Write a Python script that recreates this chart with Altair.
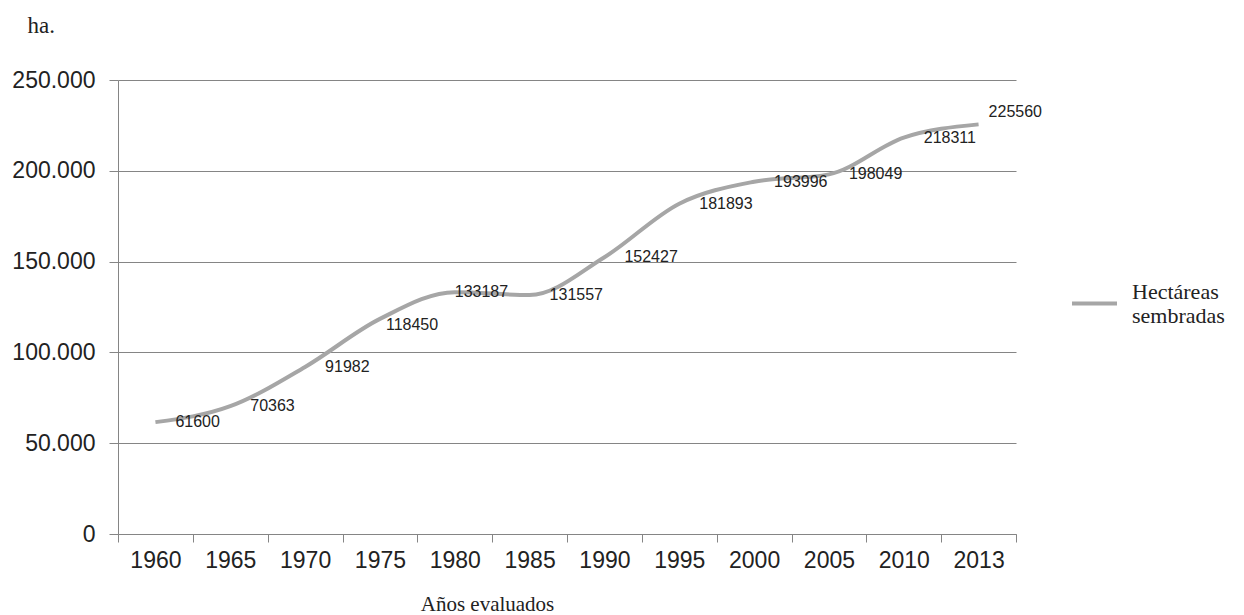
import altair as alt
import pandas as pd

years = ["1960", "1965", "1970", "1975", "1980", "1985", "1990",
         "1995", "2000", "2005", "2010", "2013"]
hectares = [61600, 70363, 91982, 118450, 133187, 131557, 152427,
            181893, 193996, 198049, 218311, 225560]
series_name = "Hectáreas sembradas"
y_ticks = [0, 50000, 100000, 150000, 200000, 250000]

df = pd.DataFrame({"year": years, "value": hectares,
                   "serie": [series_name] * len(years)})

SANS = "Liberation Sans"
SERIF = "Liberation Serif"
GRID = "#858585"

x_enc = alt.X(
    "year:N", sort=years, bandPosition=0.5,
    scale=alt.Scale(type="band", paddingInner=0, paddingOuter=0),
    axis=alt.Axis(
        title="Años evaluados", titleFont=SERIF, titleFontSize=21,
        titleFontWeight="normal", titleColor="#222",
        titleX=369, titleY=76, titleAlign="center", titleBaseline="alphabetic",
        labelAngle=0, labelFont=SANS, labelFontSize=23, labelColor="#222",
        labelPadding=7, tickBand="extent", tickSize=8, tickColor=GRID,
        domainColor=GRID, grid=False,
    ),
)
y_enc = alt.Y(
    "value:Q",
    scale=alt.Scale(domain=[0, 250000], nice=False),
    axis=alt.Axis(
        values=y_ticks,
        labelExpr="replace(format(datum.value, ',d'), ',', '.')",
        labelFont=SANS, labelFontSize=23, labelColor="#222",
        labelPadding=14, tickSize=9, tickColor=GRID, domainColor=GRID,
        grid=True, gridColor=GRID, gridWidth=1,
        title="ha.", titleFont=SERIF, titleFontSize=23, titleFontWeight="normal",
        titleColor="#222", titleAngle=0, titleAlign="left",
        titleBaseline="alphabetic", titleX=-91, titleY=-48,
    ),
)

base = alt.Chart(df)

line = base.mark_line(interpolate="monotone", strokeWidth=4).encode(
    x=x_enc, y=y_enc,
    color=alt.Color(
        "serie:N",
        scale=alt.Scale(domain=[series_name], range=["#a6a6a6"]),
        legend=alt.Legend(
            title=None, orient="none", legendX=952, legendY=187, padding=0,
            symbolType="M-1,0.53L1,0.53", symbolSize=2025, symbolStrokeWidth=4,
            labelFont=SERIF, labelFontSize=22, labelColor="#222",
            labelExpr="split(datum.label, ' ')", labelOffset=13,
            labelLimit=400,
        ),
    ),
)

text_props = dict(font=SANS, fontSize=16, color="#222", align="left",
                  baseline="middle")
special = ["1975", "1980", "2013"]

labels_main = base.mark_text(dx=20, dy=0, **text_props).encode(
    x=alt.X("year:N", sort=years, bandPosition=0.5),
    y="value:Q", text=alt.Text("value:Q", format="d"),
).transform_filter(~alt.FieldOneOfPredicate(field="year", oneOf=special))

labels_1975 = base.mark_text(dx=6, dy=6, **text_props).encode(
    x=alt.X("year:N", sort=years, bandPosition=0.5),
    y="value:Q", text=alt.Text("value:Q", format="d"),
).transform_filter(alt.FieldEqualPredicate(field="year", equal="1975"))

labels_1980 = base.mark_text(dx=0, dy=0, **text_props).encode(
    x=alt.X("year:N", sort=years, bandPosition=0.5),
    y="value:Q", text=alt.Text("value:Q", format="d"),
).transform_filter(alt.FieldEqualPredicate(field="year", equal="1980"))

labels_2013 = base.mark_text(dx=10, dy=-12, **text_props).encode(
    x=alt.X("year:N", sort=years, bandPosition=0.5),
    y="value:Q", text=alt.Text("value:Q", format="d"),
).transform_filter(alt.FieldEqualPredicate(field="year", equal="2013"))

chart = alt.layer(line, labels_main, labels_1975, labels_1980, labels_2013).properties(
    width=898, height=454,
    padding={"left": 110, "top": 72, "right": 212, "bottom": 80},
    autosize=alt.AutoSizeParams(type="none"),
    background="white",
).configure_view(stroke=None)

chart.save("out.html", embed_options={"renderer": "svg", "actions": False})
